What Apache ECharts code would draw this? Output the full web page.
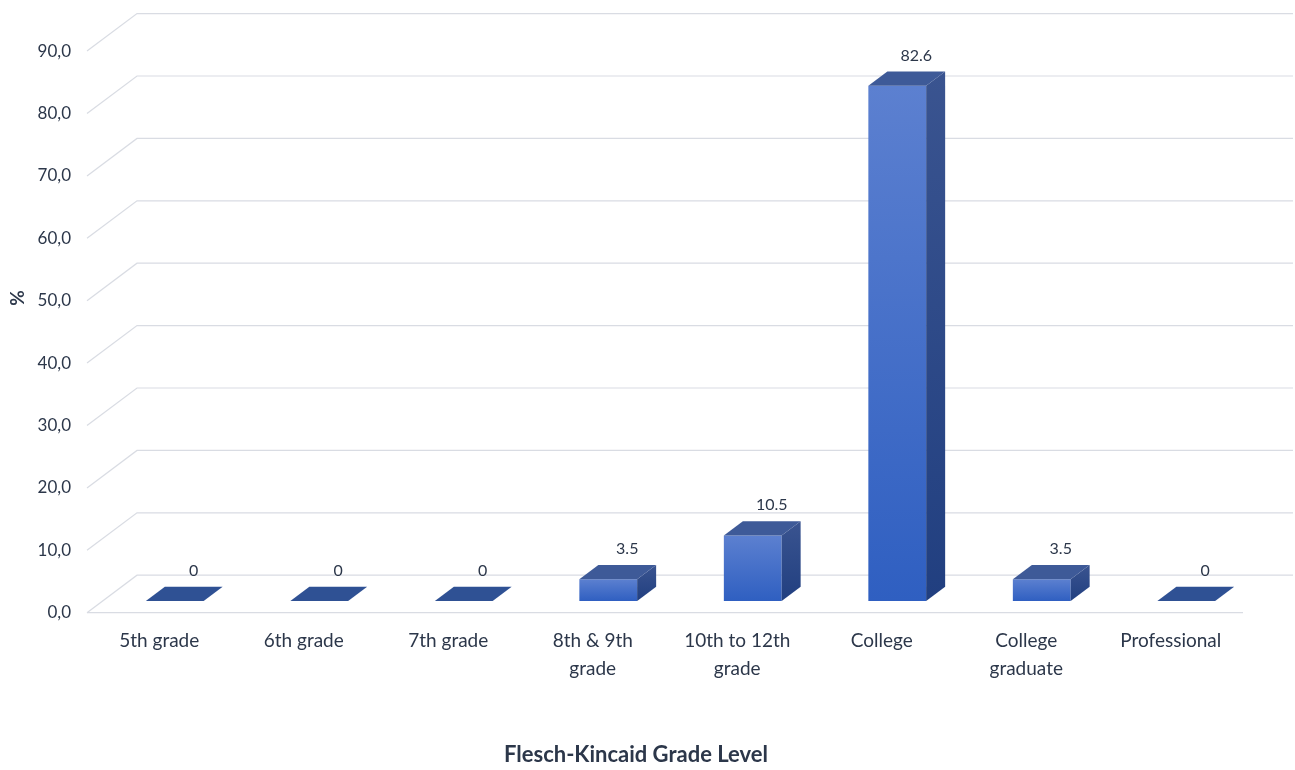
<!DOCTYPE html>
<html>
<head>
<meta charset="utf-8">
<title>Flesch-Kincaid Grade Level</title>
<script src="https://cdn.jsdelivr.net/npm/echarts@6/dist/echarts.min.js"></script>
<style>
  html, body { margin: 0; padding: 0; background: #ffffff; }
  #chart { width: 1295px; height: 770px; }
</style>
</head>
<body>
<div id="chart"></div>
<script>
// Readability distribution by Flesch-Kincaid grade level
const categories = ['5th grade', '6th grade', '7th grade', '8th & 9th\ngrade', '10th to 12th\ngrade', 'College', 'College\ngraduate', 'Professional'];
const percentages = [0, 0, 0, 3.5, 10.5, 82.6, 3.5, 0];
const yTicks = [0, 10, 20, 30, 40, 50, 60, 70, 80, 90];

// Oblique depth of the floor (back wall offset) and bar placement in depth
const DEPTH = [50, -37.5];
const BAR_FRONT = 0.31;
const BAR_BACK = 0.69;
const BAR_WIDTH = 0.4;

const FONT = 'Lato, "Open Sans", sans-serif';
const TEXT = '#2c374a';
const GRID_COLOR = '#d9dce3';

const chart = echarts.init(document.getElementById('chart'));

function wallItem(params, api) {
  const v = api.value(1);
  const band = api.size([1, 0])[0];
  const p = api.coord([0, v]);
  const xl = p[0] - band / 2;
  const xr = xl + band * categories.length;
  const children = [
    {
      type: 'polyline',
      shape: { points: [[xl, p[1]], [xl + DEPTH[0], p[1] + DEPTH[1]], [xr + DEPTH[0], p[1] + DEPTH[1]]] },
      style: { stroke: GRID_COLOR, lineWidth: 1.2, fill: null }
    }
  ];
  if (v === 0) {
    children.push({
      type: 'line',
      shape: { x1: xl, y1: p[1], x2: xr, y2: p[1] },
      style: { stroke: GRID_COLOR, lineWidth: 1.2 }
    });
  }
  return { type: 'group', children: children };
}

function barItem(params, api) {
  const i = api.value(0);
  const v = api.value(1);
  const band = api.size([1, 0])[0];
  const base = api.coord([i, 0]);
  const top = api.coord([i, v]);
  const w = band * BAR_WIDTH;
  const fx = DEPTH[0] * BAR_FRONT, fy = DEPTH[1] * BAR_FRONT;
  const bdx = DEPTH[0] * (BAR_BACK - BAR_FRONT), bdy = DEPTH[1] * (BAR_BACK - BAR_FRONT);
  const xl = base[0] - w / 2 + fx;
  const xr = base[0] + w / 2 + fx;
  const yb = base[1] + fy;
  const yt = top[1] + fy;
  const children = [];
  if (v > 0) {
    children.push({
      type: 'rect',
      shape: { x: xl, y: yt, width: w, height: yb - yt },
      style: {
        fill: new echarts.graphic.LinearGradient(0, 0, 0, 1, [
          { offset: 0, color: '#5c80d0' },
          { offset: 1, color: '#2f5fc1' }
        ])
      }
    });
    children.push({
      type: 'polygon',
      shape: { points: [[xr, yt], [xr + bdx, yt + bdy], [xr + bdx, yb + bdy], [xr, yb]] },
      style: {
        fill: new echarts.graphic.LinearGradient(0, 0, 0, 1, [
          { offset: 0, color: '#3a5490' },
          { offset: 1, color: '#213f80' }
        ])
      }
    });
  }
  children.push({
    type: 'polygon',
    shape: { points: [[xl, yt], [xr, yt], [xr + bdx, yt + bdy], [xl + bdx, yt + bdy]] },
    style: { fill: v > 0 ? '#3e5a98' : '#2f5194' }
  });
  children.push({
    type: 'text',
    x: (xl + xr) / 2 + bdx,
    y: yt + bdy - 16,
    style: {
      text: String(v),
      align: 'center',
      verticalAlign: 'middle',
      fill: TEXT,
      font: '16px ' + FONT
    }
  });
  return { type: 'group', children: children };
}

chart.setOption({
  backgroundColor: '#ffffff',
  animation: false,
  grid: { left: 87, right: 52, top: 51.1, bottom: 157.3, containLabel: false },
  xAxis: {
    type: 'category',
    data: categories,
    axisLine: { show: false },
    axisTick: { show: false },
    splitLine: { show: false },
    axisLabel: {
      margin: 14,
      interval: 0,
      color: TEXT,
      fontFamily: FONT,
      fontSize: 19,
      lineHeight: 28
    }
  },
  yAxis: {
    type: 'value',
    min: 0,
    max: 90,
    interval: 10,
    axisLine: { show: false },
    axisTick: { show: false },
    splitLine: { show: false },
    axisLabel: {
      margin: 16,
      color: TEXT,
      fontFamily: FONT,
      fontSize: 17,
      formatter: v => v.toFixed(1).replace('.', ',')
    }
  },
  graphic: [
    {
      type: 'text',
      x: 18, y: 298,
      rotation: Math.PI / 2,
      style: { text: '%', align: 'center', verticalAlign: 'middle', fill: TEXT, font: 'bold 19px ' + FONT }
    },
    {
      type: 'text',
      x: 636, y: 755,
      style: { text: 'Flesch-Kincaid Grade Level', align: 'center', verticalAlign: 'middle', fill: TEXT, font: 'bold 22px ' + FONT }
    }
  ],
  series: [
    {
      type: 'custom',
      name: 'walls',
      clip: false,
      silent: true,
      z: 1,
      renderItem: wallItem,
      data: yTicks.map(t => [0, t])
    },
    {
      type: 'custom',
      name: '%',
      clip: false,
      z: 2,
      renderItem: barItem,
      data: percentages.map((p, i) => [i, p])
    }
  ]
});
</script>
</body>
</html>
